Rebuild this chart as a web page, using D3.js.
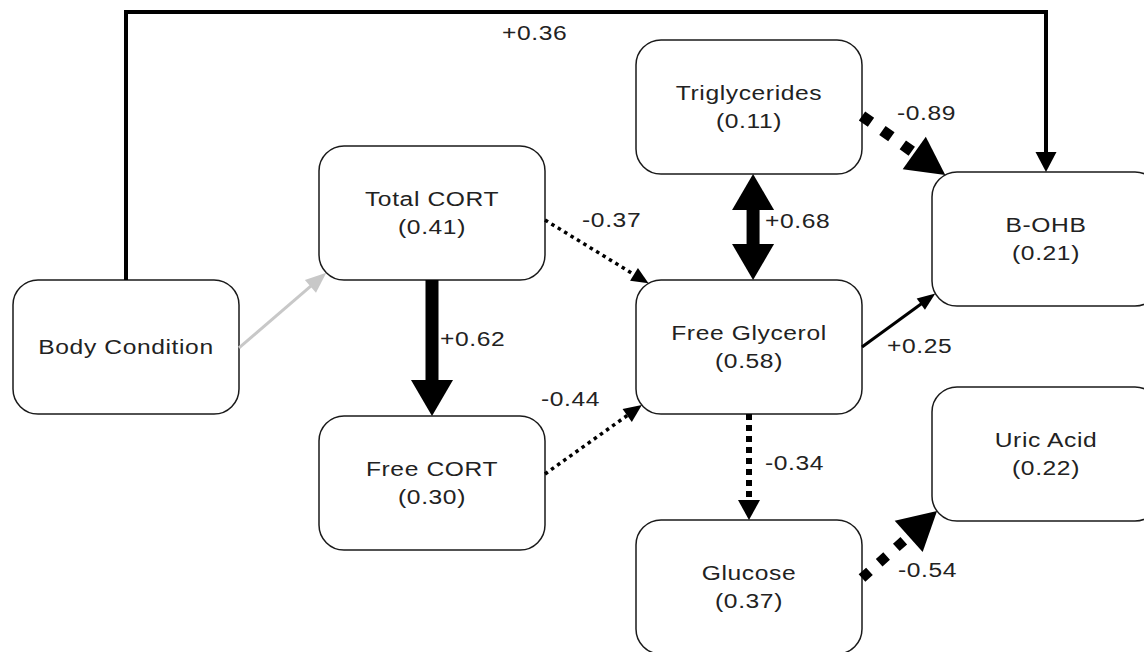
<!DOCTYPE html>
<html><head><meta charset="utf-8">
<script src="https://cdn.jsdelivr.net/npm/d3@7"></script>
<style>body{margin:0;background:#fff} svg{display:block}</style>
</head><body>
<svg id="chart" width="1144" height="652"></svg>
<script>
// ---- data ----
const nodeNames = ["Body Condition","Total CORT","Free CORT","Triglycerides","Free Glycerol","Glucose","B-OHB","Uric Acid"];
const nodeR2 = [null,0.41,0.30,0.11,0.58,0.37,0.21,0.22];
const edgeFrom = ["Body Condition","Body Condition","Total CORT","Total CORT","Free CORT","Triglycerides","Triglycerides","Free Glycerol","Free Glycerol","Glucose"];
const edgeTo   = ["B-OHB","Total CORT","Free CORT","Free Glycerol","Free Glycerol","Free Glycerol","B-OHB","B-OHB","Glucose","Uric Acid"];
const edgeCoef = [0.36,null,0.62,-0.37,-0.44,0.68,-0.89,0.25,-0.34,-0.54];
const edgeTwoWay = [false,false,false,false,false,true,false,false,false,false];

// ---- layout (positions / styles) ----
const nodeCol = {"Body Condition":0,"Total CORT":1,"Free CORT":1,"Triglycerides":2,"Free Glycerol":2,"Glucose":2,"B-OHB":3,"Uric Acid":3};
const nodeTop = {"Body Condition":280,"Total CORT":146,"Free CORT":416,"Triglycerides":40,"Free Glycerol":280,"Glucose":520,"B-OHB":172,"Uric Acid":387};
const xCol = d3.scaleOrdinal().domain([0,1,2,3]).range([13,319,636,932]);
const boxW = [226,226,226,228], boxH = 134, rx = 25;

const edgeStyle = [
  {w:4,   color:"#000", dash:null,      hl:20, hw:21, from:{side:"top",t:0.5},     to:{side:"top",t:0.5}, routeY:12, lab:[-84,28]},
  {w:3,   color:"#c8c8c8", dash:null,   hl:21, hw:17, from:{side:"right",t:0.507}, to:{corner:"bl",a:45}, lab:null},
  {w:13,  color:"#000", dash:null,      hl:36, hw:42, from:{side:"bottom",t:0.5},  to:{side:"top",t:0.5}, lab:[8,-2]},
  {w:3.5, color:"#000", dash:"3.5 4",   hl:17, hw:15, from:{side:"right",t:0.552}, to:{corner:"tl",a:60}, lab:[-14.7,-24.7]},
  {w:3.5, color:"#000", dash:"3.5 4",   hl:18, hw:16, from:{side:"right",t:0.433}, to:{corner:"bl",a:40}, lab:[-52.4,-33.5]},
  {w:13,  color:"#000", dash:null,      hl:36, hw:42, from:{side:"bottom",t:0.518},to:{side:"top",t:0.518}, lab:[12,1]},
  {w:11,  color:"#000", dash:"11 14",   hl:38, hw:40, from:{side:"right",t:0.567}, to:{corner:"tl",a:62}, lab:[-6.6,-25.4]},
  {w:3,   color:"#000", dash:null,      hl:18, hw:14, from:{side:"right",t:0.5},   to:{corner:"bl",a:30}, lab:[-11.6,32.7]},
  {w:6,   color:"#000", dash:"6 5",     hl:20, hw:22, from:{side:"bottom",t:0.5},  to:{side:"top",t:0.5}, lab:[16,3]},
  {w:10,  color:"#000", dash:"10 13",   hl:38, hw:42, from:{side:"right",t:0.433}, to:{corner:"bl",a:37}, lab:[-1.5,32.5]}
];

const FONT = "'Liberation Sans', Arial, Helvetica, sans-serif";
const fmtCoef = d3.formatLocale({decimal:".",thousands:",",grouping:[3],currency:["",""],minus:"-"}).format("+.2f");
const fmtR2 = d3.format(".2f");

const svg = d3.select("#chart");

function box(n){ const c=nodeCol[n]; return {x:xCol(c), y:nodeTop[n], w:boxW[c], h:boxH}; }
function port(n,p){
  const b = box(n);
  if (p.side==="top") return [b.x+p.t*b.w, b.y];
  if (p.side==="bottom") return [b.x+p.t*b.w, b.y+b.h];
  if (p.side==="left") return [b.x, b.y+p.t*b.h];
  if (p.side==="right") return [b.x+b.w, b.y+p.t*b.h];
  const a = p.a*Math.PI/180, c = p.corner;
  const cx = c[1]==="l" ? b.x+rx : b.x+b.w-rx;
  const cy = c[0]==="t" ? b.y+rx : b.y+b.h-rx;
  const sx = c[1]==="l" ? -1 : 1, sy = c[0]==="t" ? -1 : 1;
  return [cx+sx*rx*Math.cos(a), cy+sy*rx*Math.sin(a)];
}

// ---- boxes ----
const nodes = nodeNames.map((n,i)=>({name:n, r2:nodeR2[i], ...box(n)}));
const gN = svg.append("g");
gN.selectAll("rect").data(nodes).join("rect")
  .attr("x",d=>d.x).attr("y",d=>d.y).attr("width",d=>d.w).attr("height",d=>d.h)
  .attr("rx",rx).attr("ry",rx)
  .attr("fill","#fff").attr("stroke","#1a1a1a").attr("stroke-width",1.5);

function sText(g, x, y, txt, anchor){
  return g.append("text").attr("transform",`translate(${x},${y}) scale(1.23,1)`)
    .attr("text-anchor",anchor).attr("font-family",FONT).attr("font-size",20)
    .attr("letter-spacing",0.5).attr("fill","#222").text(txt);
}
nodes.forEach(d=>{
  const cx = d.x + d.w/2, cy = d.y + d.h/2;
  if (d.r2===null) sText(gN, cx, cy+7, d.name, "middle");
  else { sText(gN, cx, cy-7, d.name, "middle"); sText(gN, cx, cy+21, "("+fmtR2(d.r2)+")", "middle"); }
});

// ---- edges ----
const gE = svg.append("g");
const line = d3.line();
edgeFrom.forEach((f,i)=>{
  const st = edgeStyle[i], t = edgeTo[i];
  let s = port(f, st.from), e = port(t, st.to);
  let pts;
  if (st.routeY!==undefined) pts = [s,[s[0],st.routeY],[e[0],st.routeY],e];
  else pts = [s,e];
  const p1 = pts[pts.length-2], p2 = pts[pts.length-1];
  const dx = p2[0]-p1[0], dy = p2[1]-p1[1], L = Math.hypot(dx,dy);
  const ux = dx/L, uy = dy/L, nx = -uy, ny = ux;
  const ext = st.dash ? 0 : 2;
  const base = [p2[0]-ux*(st.hl-ext), p2[1]-uy*(st.hl-ext)];
  const heads = [[p2,[p2[0]-ux*st.hl+nx*st.hw/2, p2[1]-uy*st.hl+ny*st.hw/2],[p2[0]-ux*st.hl-nx*st.hw/2, p2[1]-uy*st.hl-ny*st.hw/2]]];
  const linePts = pts.slice(0,-1).concat([base]);
  if (edgeTwoWay[i]) {
    const q = pts[0];
    linePts[0] = [q[0]+ux*(st.hl-ext), q[1]+uy*(st.hl-ext)];
    heads.push([q,[q[0]+ux*st.hl+nx*st.hw/2, q[1]+uy*st.hl+ny*st.hw/2],[q[0]+ux*st.hl-nx*st.hw/2, q[1]+uy*st.hl-ny*st.hw/2]]);
  }
  gE.append("path").attr("d",line(linePts)).attr("fill","none")
    .attr("stroke",st.color).attr("stroke-width",st.w)
    .attr("stroke-dasharray",st.dash).attr("stroke-linecap","butt").attr("stroke-linejoin","miter");
  heads.forEach(h=>gE.append("path").attr("d",line(h)+"Z").attr("fill",st.color).attr("stroke","none"));
  if (st.lab && edgeCoef[i]!==null) {
    let m;
    if (st.routeY!==undefined) m = [(pts[1][0]+pts[2][0])/2, st.routeY];
    else m = [(s[0]+e[0])/2, (s[1]+e[1])/2];
    sText(gE, m[0]+st.lab[0], m[1]+st.lab[1], fmtCoef(edgeCoef[i]), "start");
  }
});
</script>
</body></html>
